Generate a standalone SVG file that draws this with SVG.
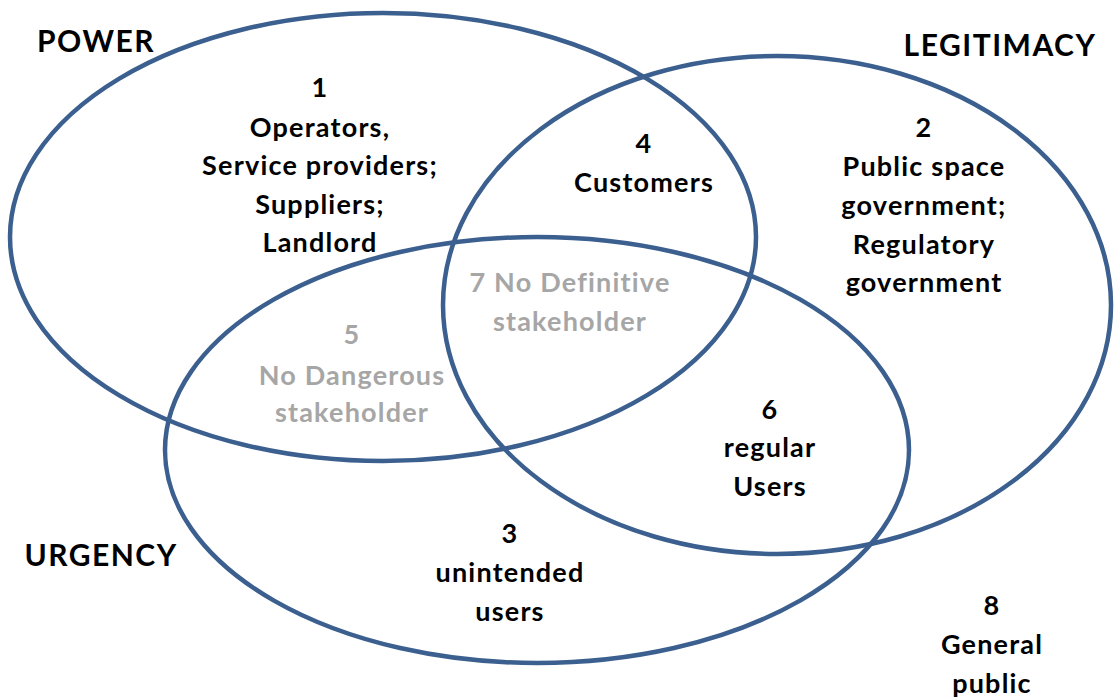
<svg xmlns="http://www.w3.org/2000/svg" width="1114" height="697" viewBox="0 0 1114 697">
<style>
.set{fill:none;stroke:#3B5F8E;stroke-width:4.5}
text{font-family:Lato,"Liberation Sans",sans-serif;font-weight:700;text-anchor:middle;font-size:27px;letter-spacing:1.2px;fill:#000}
.title{font-size:30px;letter-spacing:1.5px}
.gray{fill:#A6A6A6}
</style>
<rect width="1114" height="697" fill="#fff"/>
<g id="connectors">
<ellipse id="power-set" class="set" cx="383" cy="237" rx="373" ry="224"/>
<ellipse id="legitimacy-set" class="set" cx="777" cy="305" rx="334" ry="249"/>
<ellipse id="urgency-set" class="set" cx="537" cy="450" rx="372" ry="213"/>
</g>
<g id="label-power"><text class="title" x="96" y="52">POWER</text></g>
<g id="label-legitimacy"><text class="title" x="1000" y="56">LEGITIMACY</text></g>
<g id="label-urgency"><text class="title" x="101" y="566">URGENCY</text></g>
<g id="node-1"><text x="320" y="97">1</text><text x="320" y="137">Operators,</text><text x="320" y="175">Service providers;</text><text x="320" y="214">Suppliers;</text><text x="320" y="252">Landlord</text></g>
<g id="node-4"><text x="644" y="153">4</text><text x="644" y="192">Customers</text></g>
<g id="node-2"><text x="924" y="137">2</text><text x="924" y="176">Public space</text><text x="924" y="215">government;</text><text x="924" y="254">Regulatory</text><text x="924" y="292">government</text></g>
<g id="node-7"><text class="gray" x="570" y="292">7 No Definitive</text><text class="gray" x="570" y="331">stakeholder</text></g>
<g id="node-5"><text class="gray" x="352" y="344">5</text><text class="gray" x="352" y="385">No Dangerous</text><text class="gray" x="352" y="422">stakeholder</text></g>
<g id="node-6"><text x="770" y="419">6</text><text x="770" y="457">regular</text><text x="770" y="496">Users</text></g>
<g id="node-3"><text x="510" y="543">3</text><text x="510" y="582">unintended</text><text x="510" y="621">users</text></g>
<g id="node-8"><text x="992" y="615">8</text><text x="992" y="654">General</text><text x="992" y="693">public</text></g>
</svg>
